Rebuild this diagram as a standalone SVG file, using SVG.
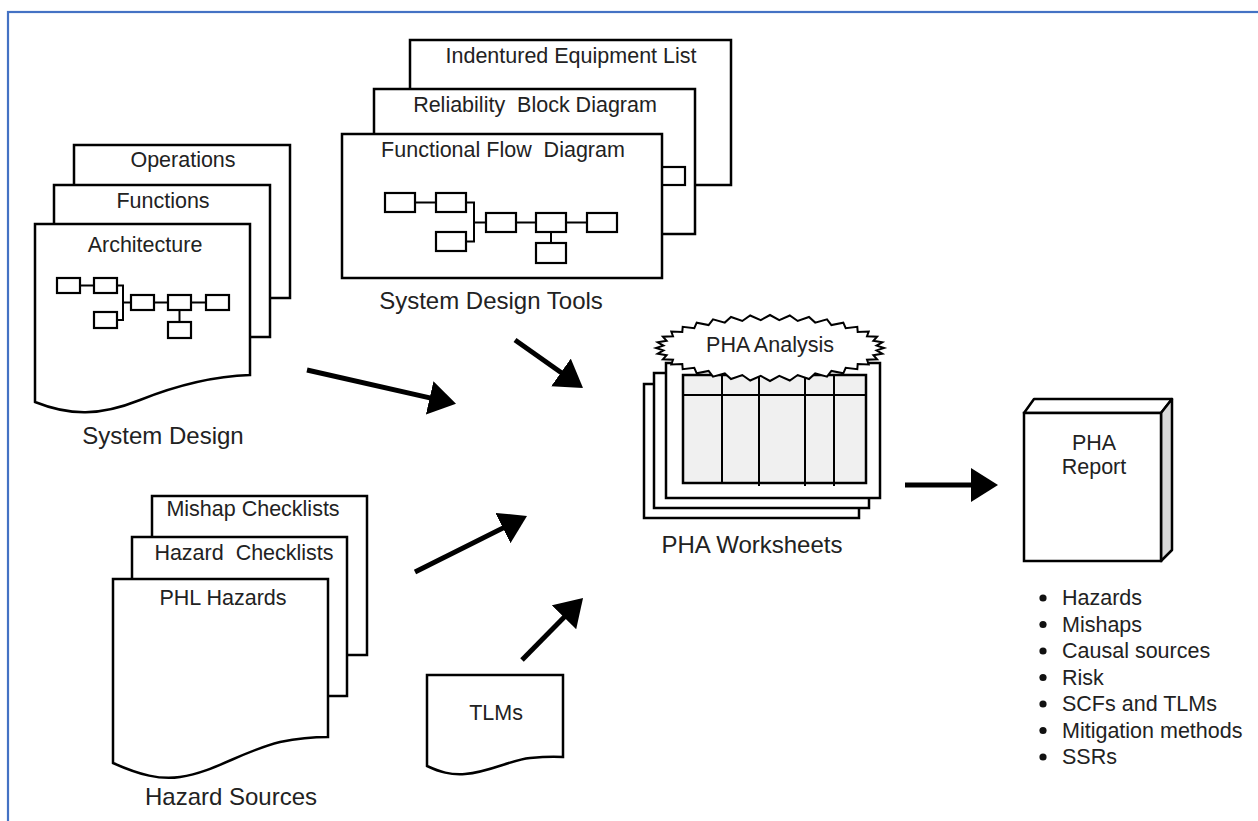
<svg xmlns="http://www.w3.org/2000/svg" width="1258" height="821" viewBox="0 0 1258 821">
<style>
text{font-family:"Liberation Sans",Arial,sans-serif;fill:#222;}
.lbl{font-size:21.5px;text-anchor:middle;}
.cap{font-size:24px;text-anchor:middle;}
.bul{font-size:21.5px;}
.sheet{fill:#fff;stroke:#000;stroke-width:2.5;}
.mini{fill:#fff;stroke:#000;stroke-width:2.2;}
.wire{fill:none;stroke:#000;stroke-width:2;}
.arrow{fill:none;stroke:#000;stroke-width:5;marker-end:url(#ah);}
</style>
<defs>
<marker id="ah" markerUnits="userSpaceOnUse" markerWidth="27" markerHeight="34" viewBox="0 0 27 34" refX="7" refY="17" orient="auto">
<path d="M0,0 L27,17 L0,34 Z" fill="#000"/>
</marker>
</defs>
<rect x="8" y="12" width="1270" height="830" fill="none" stroke="#4472c4" stroke-width="2.2"/>

<g id="system-design">
<rect class="sheet" x="74" y="145" width="216" height="153"/>
<text class="lbl" x="183" y="167">Operations</text>
<rect class="sheet" x="54" y="185" width="216" height="152"/>
<text class="lbl" x="163" y="208">Functions</text>
<path class="sheet" d="M35,224 H250 V375 C220,376 180,384 140,400 C100,416 70,416 35,402 Z"/>
<text class="lbl" x="145" y="252">Architecture</text>
<g>
<path class="wire" d="M80,285.5 H94 M117,285.5 H123 V320 H117 M123,302.5 H131 M154,302.5 H168 M191,302.5 H206 M179.5,310 V322"/>
<rect class="mini" x="57" y="278" width="23" height="15"/>
<rect class="mini" x="94" y="278" width="23" height="15"/>
<rect class="mini" x="131" y="295" width="23" height="15"/>
<rect class="mini" x="168" y="295" width="23" height="15"/>
<rect class="mini" x="206" y="295" width="23" height="15"/>
<rect class="mini" x="94" y="312" width="23" height="16"/>
<rect class="mini" x="168" y="322" width="23" height="16"/>
</g>
<text class="cap" x="163" y="444">System Design</text>
</g>

<g id="system-design-tools">
<rect class="sheet" x="410" y="40" width="321" height="145"/>
<text class="lbl" x="571" y="63">Indentured Equipment List</text>
<rect class="sheet" x="374" y="89" width="321" height="145"/>
<text class="lbl" x="535" y="112" xml:space="preserve">Reliability  Block Diagram</text>
<rect class="mini" x="650" y="167" width="35" height="18"/>
<rect class="sheet" x="342" y="134" width="320" height="144"/>
<text class="lbl" x="503" y="157" xml:space="preserve">Functional Flow  Diagram</text>
<g>
<path class="wire" d="M415,202.5 H436 M466,202.5 H474 V241.5 H466 M474,222.5 H486 M516,222.5 H536 M566,222.5 H587 M551,232 V243"/>
<rect class="mini" x="385" y="193" width="30" height="19"/>
<rect class="mini" x="436" y="193" width="30" height="19"/>
<rect class="mini" x="486" y="213" width="30" height="19"/>
<rect class="mini" x="536" y="213" width="30" height="19"/>
<rect class="mini" x="587" y="213" width="30" height="19"/>
<rect class="mini" x="436" y="232" width="30" height="19"/>
<rect class="mini" x="536" y="243" width="30" height="20"/>
</g>
<text class="cap" x="491" y="309">System Design Tools</text>
</g>

<g id="hazard-sources">
<rect class="sheet" x="152" y="496" width="215" height="159"/>
<text class="lbl" x="253" y="516">Mishap Checklists</text>
<rect class="sheet" x="132" y="537" width="215" height="159"/>
<text class="lbl" x="244" y="560" xml:space="preserve">Hazard  Checklists</text>
<path class="sheet" d="M113,579 H328 V737 Q305,737 280,742 C240,752 215,772 180,777 C160,780 140,775 113,763 Z"/>
<text class="lbl" x="223" y="605">PHL Hazards</text>
<text class="cap" x="231" y="805">Hazard Sources</text>
</g>

<g id="tlms">
<path class="sheet" d="M427,675 H563 V757 Q550,756 530,758 C510,760 490,772 465,774 C450,775 440,772 427,766 Z"/>
<text class="lbl" x="496" y="720">TLMs</text>
</g>

<g id="pha-worksheets">
<rect class="sheet" x="644" y="384" width="215" height="134"/>
<rect class="sheet" x="654" y="373" width="215" height="135"/>
<rect class="sheet" x="666" y="363" width="214" height="135"/>
<rect x="683" y="375" width="183" height="108" fill="#f0f0f0" stroke="#000" stroke-width="2.5"/>
<path class="wire" stroke-width="2.5" d="M683,395 H866 M722,375 V483 M759,375 V486 M805,375 V486 M834,375 V486"/>
<polygon fill="#fff" stroke="#000" stroke-width="2" points="884,348 876.6,345.6 882.3,342.3 873.4,340.8 877.1,336.7 867,336.2 868.7,331.5 857.7,331.9 857.3,326.8 845.7,328.2 843.3,322.7 831.4,325.1 827,319.4 815.2,322.6 809,317 797.7,321 789.8,315.5 779.3,320.1 770,315 760.7,320.1 750.2,315.5 742.3,321 731,317 724.8,322.6 713,319.4 708.6,325.1 696.7,322.7 694.3,328.2 682.7,326.8 682.3,331.9 671.3,331.5 673,336.2 662.9,336.7 666.6,340.8 657.7,342.3 663.4,345.6 656,348 663.4,350.4 657.7,353.7 666.6,355.2 662.9,359.3 673,359.8 671.3,364.5 682.3,364.1 682.7,369.2 694.3,367.8 696.7,373.3 708.6,370.9 713,376.6 724.8,373.4 731,379 742.3,375 750.2,380.5 760.7,375.9 770,381 779.3,375.9 789.8,380.5 797.7,375 809,379 815.2,373.4 827,376.6 831.4,370.9 843.3,373.3 845.7,367.8 857.3,369.2 857.7,364.1 868.7,364.5 867,359.8 877.1,359.3 873.4,355.2 882.3,353.7 876.6,350.4"/>
<text class="lbl" x="770" y="352">PHA Analysis</text>
<text class="cap" x="752" y="553">PHA Worksheets</text>
</g>

<g id="pha-report">
<polygon points="1024,413 1034,399 1172,399 1161,413" fill="#fff" stroke="#000" stroke-width="2.5" stroke-linejoin="round"/>
<polygon points="1161,413 1172,399 1172,550 1161,561" fill="#d9d9d9" stroke="#000" stroke-width="2.5" stroke-linejoin="round"/>
<rect class="sheet" x="1024" y="413" width="137" height="148"/>
<text class="lbl" x="1094" y="450">PHA</text>
<text class="lbl" x="1094" y="474">Report</text>
</g>

<g id="pha-outputs">
<circle cx="1043" cy="598" r="3.6" fill="#111"/>
<text class="bul" x="1062" y="605">Hazards</text>
<circle cx="1043" cy="624.5" r="3.6" fill="#111"/>
<text class="bul" x="1062" y="631.5">Mishaps</text>
<circle cx="1043" cy="651" r="3.6" fill="#111"/>
<text class="bul" x="1062" y="658">Causal sources</text>
<circle cx="1043" cy="677.5" r="3.6" fill="#111"/>
<text class="bul" x="1062" y="684.5">Risk</text>
<circle cx="1043" cy="704" r="3.6" fill="#111"/>
<text class="bul" x="1062" y="711">SCFs and TLMs</text>
<circle cx="1043" cy="730.5" r="3.6" fill="#111"/>
<text class="bul" x="1062" y="737.5">Mitigation methods</text>
<circle cx="1043" cy="757" r="3.6" fill="#111"/>
<text class="bul" x="1062" y="764">SSRs</text>
</g>

<g id="connectors">
<line class="arrow" x1="307" y1="370" x2="436.5" y2="399.4"/>
<line class="arrow" x1="515" y1="340" x2="566.7" y2="376.5"/>
<line class="arrow" x1="415" y1="572" x2="509.1" y2="524.9"/>
<line class="arrow" x1="522" y1="660" x2="569" y2="612.3"/>
<line class="arrow" x1="905" y1="485" x2="978" y2="485"/>
</g>
</svg>
